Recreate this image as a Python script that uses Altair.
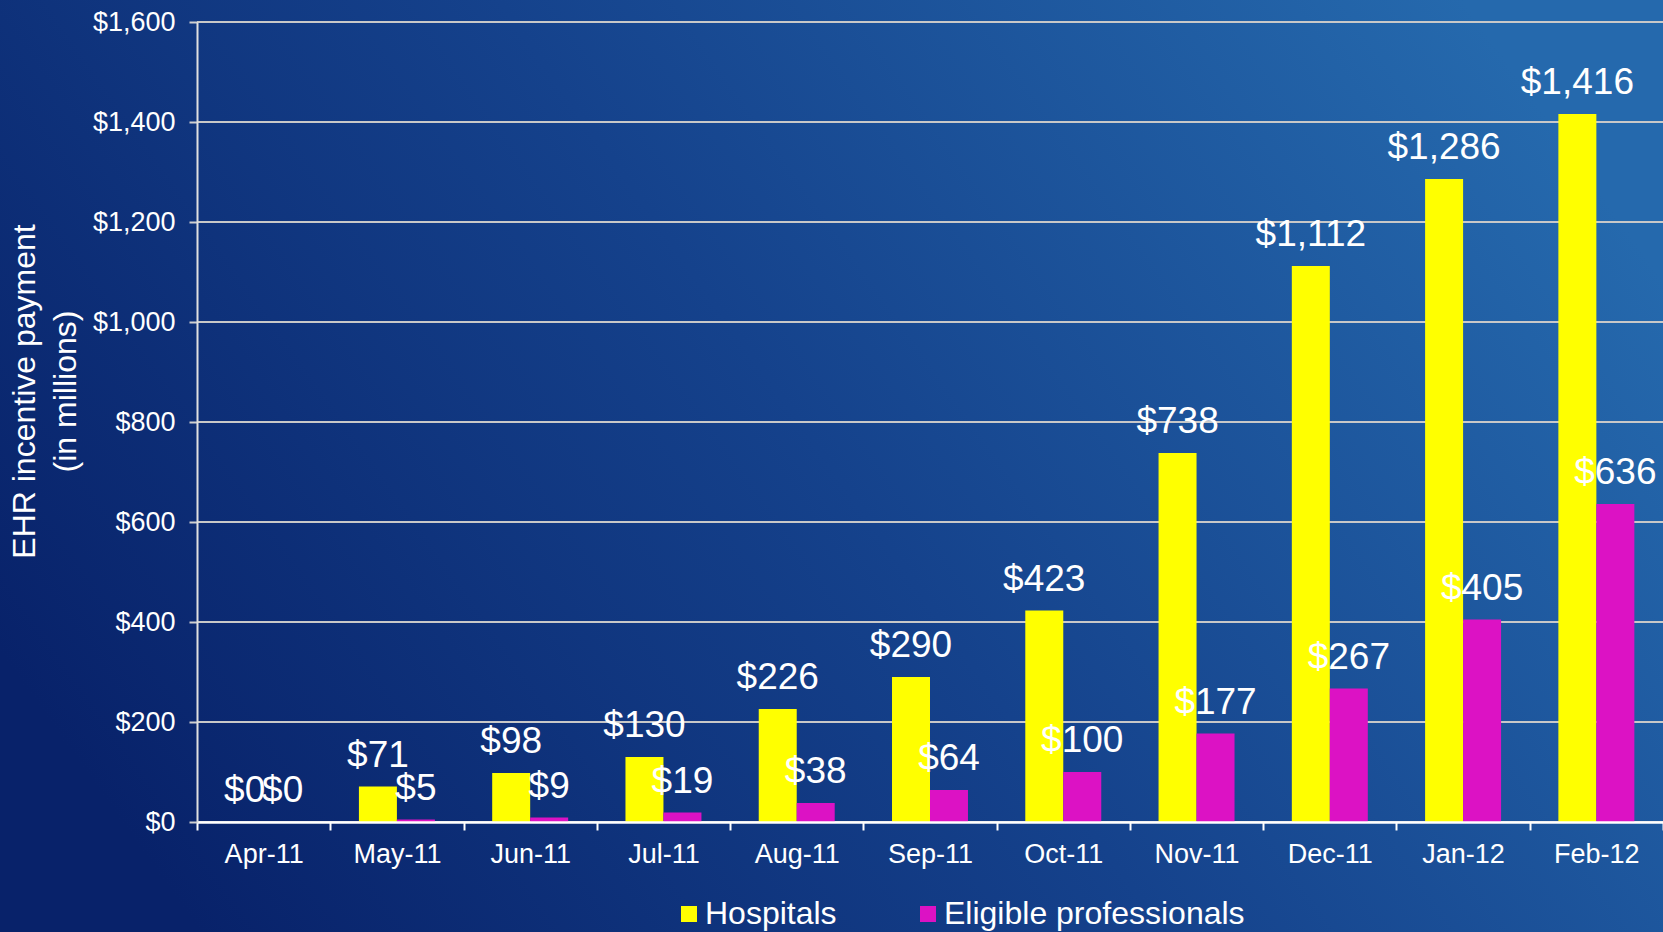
import altair as alt
import pandas as pd

months = ["Apr-11", "May-11", "Jun-11", "Jul-11", "Aug-11", "Sep-11",
          "Oct-11", "Nov-11", "Dec-11", "Jan-12", "Feb-12"]
hospitals = [0, 71, 98, 130, 226, 290, 423, 738, 1112, 1286, 1416]
professionals = [0, 5, 9, 19, 38, 64, 100, 177, 267, 405, 636]
series = ["Hospitals", "Eligible professionals"]
series_colors = ["#ffff00", "#dc12c4"]
y_ticks = [0, 200, 400, 600, 800, 1000, 1200, 1400, 1600]

rows = []
for m, h, p in zip(months, hospitals, professionals):
    rows.append({"month": m, "series": series[0], "value": h})
    rows.append({"month": m, "series": series[1], "value": p})
df = pd.DataFrame(rows)
grid_df = pd.DataFrame({"value": y_ticks})

W, H = 1466, 800
PAD_L, PAD_T, PAD_R, PAD_B = 197, 22, 0, 110
FONT = "Liberation Sans"

y_scale = alt.Scale(domain=[0, 1600], nice=False)
y_axis = alt.Axis(
    values=y_ticks, format="$,d", labelColor="white", labelFontSize=27,
    labelFont=FONT, labelPadding=14, domainColor="#e0e0e0", domainWidth=2,
    tickColor="#d0d0d0", tickWidth=2, tickSize=8, grid=False, zindex=1,
    title=["EHR incentive payment", "(in millions)"],
    titleColor="white", titleFontSize=32, titleFont=FONT,
    titleFontWeight="normal", titleLineHeight=41,
    titleAngle=270, titleX=-156, titleY=369, titleAlign="center",
    titleBaseline="bottom",
)
y_enc = alt.Y("value:Q", scale=y_scale, axis=y_axis)

bg = alt.Chart(pd.DataFrame({"k": [0]})).mark_rect(
    clip=False,
    color=alt.LinearGradient(
        gradient="linear",
        stops=[
            alt.GradientStop(color="#08226a", offset=0),
            alt.GradientStop(color="#15428c", offset=0.5),
            alt.GradientStop(color="#2569ad", offset=1),
        ],
        x1=0, y1=0.7, x2=1, y2=0.3,
    ),
).encode(
    x=alt.value(-PAD_L), x2=alt.value(W + PAD_R),
    y=alt.value(-PAD_T), y2=alt.value(H + PAD_B),
)

grid = alt.Chart(grid_df).mark_rule(color="#c8c8c8", strokeWidth=2).encode(
    y=y_enc,
    x=alt.value(0), x2=alt.value(W),
)

x_enc = alt.X(
    "month:N", sort=months, title=None,
    scale=alt.Scale(paddingInner=0, paddingOuter=0),
    axis=alt.Axis(
        labelAngle=0, labelColor="white", labelFontSize=27, labelFont=FONT,
        labelPadding=11, domainColor="white", domainWidth=2.5,
        tickColor="white", tickWidth=2, tickSize=8, tickBand="extent",
        grid=False, zindex=1,
    ),
)
xoff_enc = alt.XOffset("series:N", sort=series,
                       scale=alt.Scale(paddingInner=0, paddingOuter=0.754))

bars = alt.Chart(df).mark_bar(clip=False).encode(
    x=x_enc,
    xOffset=xoff_enc,
    y=y_enc,
    color=alt.Color(
        "series:N", sort=series, title=None,
        scale=alt.Scale(domain=series, range=series_colors),
        legend=alt.Legend(
            orient="none", legendX=476, legendY=876, direction="horizontal",
            symbolType="square", symbolSize=256, symbolStrokeWidth=0,
            labelColor="white", labelFontSize=32, labelFont=FONT,
            labelOffset=0, columnPadding=75, labelLimit=500,
        ),
    ),
)

labels = alt.Chart(df).mark_text(
    color="white", fontSize=37, font=FONT, baseline="alphabetic", dy=-20,
).encode(
    x=alt.X("month:N", sort=months),
    xOffset=alt.XOffset("series:N", sort=series),
    y=alt.Y("value:Q"),
    text=alt.Text("value:Q", format="$,d"),
)

chart = alt.layer(bg, grid, bars, labels).properties(
    width=W, height=H,
    autosize=alt.AutoSizeParams(type="none"),
    padding={"left": PAD_L, "top": PAD_T, "right": PAD_R, "bottom": PAD_B},
).configure_view(stroke=None).configure(background="#0d2f78")

chart.save("out.html", embed_options={"renderer": "svg", "actions": False})
